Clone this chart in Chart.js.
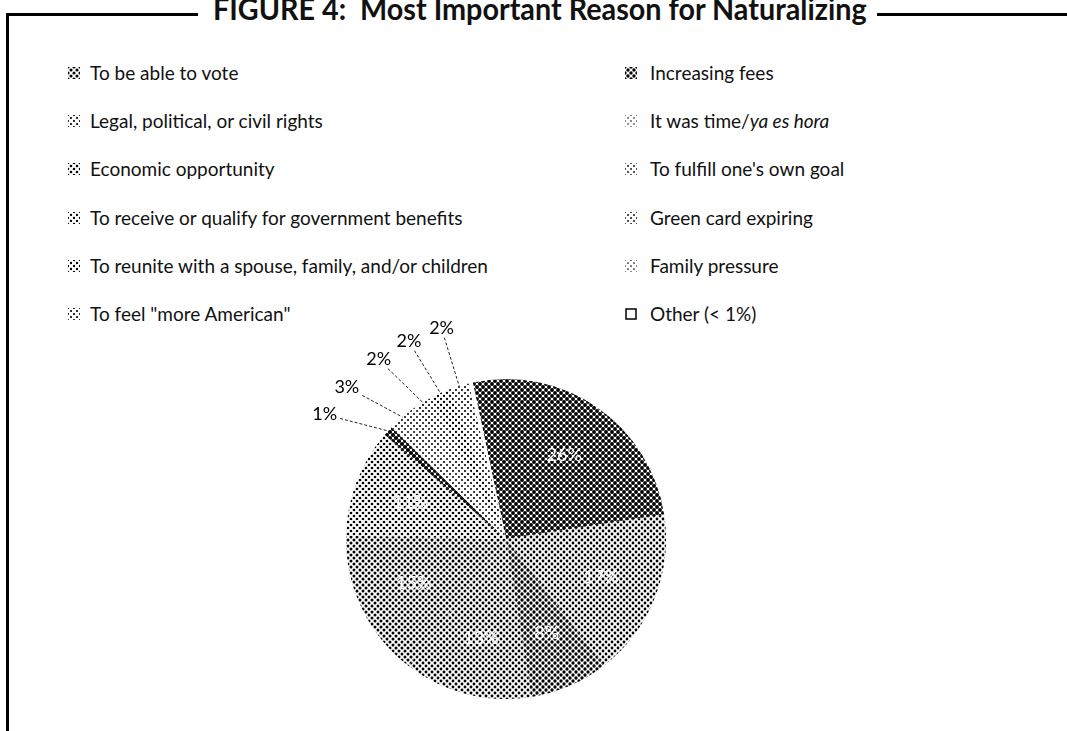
<!DOCTYPE html>
<html>
<head>
<meta charset="utf-8">
<script src="https://cdn.jsdelivr.net/npm/chart.js@4/dist/chart.umd.min.js"></script>
<style>
  body { margin: 0; background: #fff; width: 1067px; height: 731px; overflow: hidden; position: relative; font-family: Lato, sans-serif; color: #111; }
  .rule { position: absolute; background: #000; }
  #title { position: absolute; left: 213px; top: -12px; font-weight: bold; font-size: 31px; white-space: pre; transform-origin: 0 0; line-height: 40px; }
  .item { position: absolute; font-size: 19px; line-height: 22px; white-space: nowrap; }
  .item canvas { position: absolute; top: 5px; }
  #chart { position: absolute; left: 0; top: 0; }
</style>
</head>
<body>
<div class="rule" style="left:6px;top:13px;width:192px;height:3px"></div>
<div class="rule" style="left:877px;top:13px;width:190px;height:3px"></div>
<div class="rule" style="left:6px;top:13px;width:3px;height:720px"></div>
<div id="title">FIGURE 4:  Most Important Reason for Naturalizing</div>
<div id="legend"></div>
<canvas id="chart" width="1067" height="731"></canvas>
<script>
var reasons = [
  'To be able to vote',
  'Legal, political, or civil rights',
  'Economic opportunity',
  'To receive or qualify for government benefits',
  'To reunite with a spouse, family, and/or children',
  'To feel "more American"',
  'Increasing fees',
  'It was time/ya es hora',
  "To fulfill one's own goal",
  'Green card expiring',
  'Family pressure',
  'Other (< 1%)'
];
var shares = [26, 17, 8, 13, 15, 11, 1, 3, 2, 2, 2, 0.4];

// halftone dot radius per slice (0 = plain white)
var dotRadius = [1.95, 1.4, 1.65, 1.45, 1.5, 1.35, 2.1, 1.0, 1.1, 1.15, 1.05, 0];

function dotPattern(ctx, r) {
  var t = document.createElement('canvas');
  t.width = 6; t.height = 6;
  var c = t.getContext('2d');
  c.fillStyle = '#fff';
  c.fillRect(0, 0, 6, 6);
  c.fillStyle = '#000';
  if (r > 0) {
    [[0, 0], [6, 0], [0, 6], [6, 6], [3, 3]].forEach(function (p) {
      c.beginPath();
      c.arc(p[0], p[1], r, 0, Math.PI * 2);
      c.fill();
    });
  }
  return ctx.createPattern(t, 'repeat');
}

// title squeezed to the width of the original heading
var title = document.getElementById('title');
title.style.transform = 'scaleX(' + (654 / title.offsetWidth) + ')';

// legend: two columns of six
var legend = document.getElementById('legend');
reasons.forEach(function (name, i) {
  var col = i < 6 ? 0 : 1;
  var row = i % 6;
  var item = document.createElement('div');
  item.className = 'item';
  item.style.left = (col ? 625 : 68) + 'px';
  item.style.top = (62 + row * 48.2) + 'px';
  var sw = document.createElement('canvas');
  sw.width = 12; sw.height = 12;
  var sctx = sw.getContext('2d');
  if (dotRadius[i] > 0) {
    sctx.fillStyle = dotPattern(sctx, dotRadius[i] * 0.8);
    sctx.fillRect(0, 0, 12, 12);
  } else {
    sctx.strokeStyle = '#000';
    sctx.lineWidth = 1.5;
    sctx.strokeRect(1, 1, 10, 10);
  }
  item.appendChild(sw);
  var txt = document.createElement('span');
  txt.style.marginLeft = (col ? 25 : 22) + 'px';
  txt.innerHTML = name.replace('ya es hora', '<i>ya es hora</i>');
  item.appendChild(txt);
  legend.appendChild(item);
});

var sliceLabels = {
  id: 'sliceLabels',
  afterDatasetsDraw: function (chart) {
    var ctx = chart.ctx;
    var meta = chart.getDatasetMeta(0);
    var k = 0;
    ctx.save();
    ctx.font = '18px Lato';
    ctx.textAlign = 'center';
    ctx.textBaseline = 'middle';
    meta.data.forEach(function (arc, i) {
      var v = shares[i];
      if (v < 1) return;
      var text = Math.round(v) + '%';
      var mid = (arc.startAngle + arc.endAngle) / 2;
      if (v >= 5) {
        var rr = arc.outerRadius * 0.64;
        ctx.fillStyle = '#fff';
        ctx.fillText(text, arc.x + Math.cos(mid) * rr, arc.y + Math.sin(mid) * rr);
        return;
      }
      // small slices: label pulled out, fanned so they don't collide
      var ax = arc.x + Math.cos(mid) * arc.outerRadius;
      var ay = arc.y + Math.sin(mid) * arc.outerRadius;
      var la = mid - (0.14 - 0.035 * k);
      var lr = arc.outerRadius + 60;
      k++;
      var lx = arc.x + Math.cos(la) * lr;
      var ly = arc.y + Math.sin(la) * lr;
      var w = ctx.measureText(text).width;
      var dx = ax - lx, dy = ay - ly;
      var s = Math.min((w / 2 + 3) / Math.abs(dx), 9 / Math.abs(dy));
      ctx.strokeStyle = '#222';
      ctx.lineWidth = 1;
      ctx.setLineDash([3, 2]);
      ctx.beginPath();
      ctx.moveTo(lx + dx * s, ly + dy * s);
      ctx.lineTo(ax, ay);
      ctx.stroke();
      ctx.fillStyle = '#000';
      ctx.fillText(text, lx, ly);
    });
    ctx.restore();
  }
};

var canvas = document.getElementById('chart');
var cctx = canvas.getContext('2d');
new Chart(cctx, {
  type: 'pie',
  data: {
    labels: reasons,
    datasets: [{
      data: shares,
      backgroundColor: dotRadius.map(function (r) { return dotPattern(cctx, r); }),
      borderWidth: 0
    }]
  },
  options: {
    responsive: false,
    animation: false,
    rotation: -12,
    layout: { padding: { left: 346, right: 401, top: 379, bottom: 32 } },
    plugins: {
      legend: { display: false },
      tooltip: { enabled: false }
    }
  },
  plugins: [sliceLabels]
});
</script>
</body>
</html>
